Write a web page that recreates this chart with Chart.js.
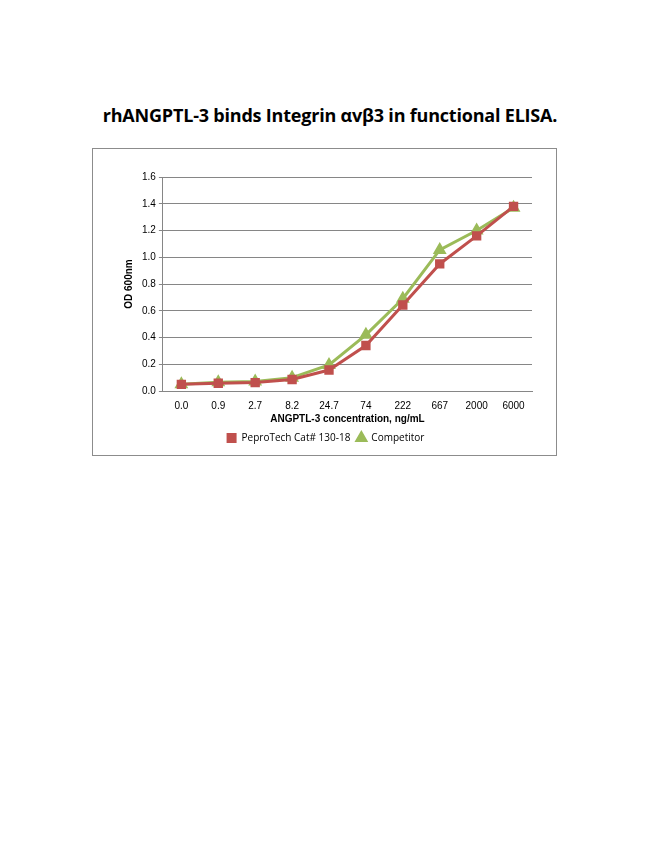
<!DOCTYPE html>
<html><head><meta charset="utf-8">
<script src="https://cdn.jsdelivr.net/npm/chart.js@4"></script>
<style>
body{margin:0;background:#fff;width:650px;height:841px;position:relative;font-family:"Open Sans",sans-serif}
#title{position:absolute;top:103px;left:0;width:660px;text-align:center;font-weight:bold;font-size:18px;color:#000;letter-spacing:-0.2px}
#box{position:absolute;left:92px;top:148px;width:463px;height:306px;border:1px solid #8c8c8c}
</style></head><body>
<div id="title">rhANGPTL-3 binds Integrin αvβ3 in functional ELISA.</div>
<div id="box"><canvas id="c" width="463" height="306"></canvas></div>
<script>
const categories=["0.0","0.9","2.7","8.2","24.7","74","222","667","2000","6000"];
const peprotech=[0.05,0.058,0.063,0.086,0.157,0.34,0.643,0.95,1.16,1.38];
const competitor=[0.05,0.066,0.071,0.10,0.195,0.42,0.69,1.055,1.2,1.37];
const yTicks=[0,0.2,0.4,0.6,0.8,1.0,1.2,1.4,1.6];
new Chart(document.getElementById('c'),{
type:'line',
data:{labels:categories,datasets:[
{label:'PeproTech Cat# 130-18',data:peprotech,borderColor:'#c0504d',backgroundColor:'#c0504d',borderWidth:3,pointStyle:'rect',pointRadius:4.5,pointBorderColor:'#c0504d'},
{label:'Competitor',data:competitor,borderColor:'#9bbb59',backgroundColor:'#9bbb59',borderWidth:3,pointStyle:'triangle',pointRadius:5}
]},
options:{responsive:false,animation:false,
layout:{padding:{left:26,right:24,top:28,bottom:2}},
plugins:{legend:{position:'bottom',labels:{usePointStyle:true,boxHeight:7,font:{size:10,family:'Open Sans'},color:'#000',padding:6}},tooltip:{enabled:false}},
scales:{
x:{offset:true,grid:{display:false,drawTicks:true},border:{color:'#868686'},ticks:{color:'#000',font:{size:10},padding:1},
 title:{display:true,text:'ANGPTL-3 concentration, ng/mL',color:'#000',font:{size:10,weight:'bold'},padding:{top:0,bottom:2}}},
y:{min:0,max:1.6,afterBuildTicks:a=>{a.ticks=yTicks.map(v=>({value:v}))},grid:{color:'#868686',drawTicks:true,tickLength:4},border:{color:'#868686'},
 ticks:{color:'#000',font:{size:10},callback:v=>v.toFixed(1)},
 title:{display:true,text:'OD 600nm',color:'#000',font:{size:10,weight:'bold'}}}
}}});
</script></body></html>
